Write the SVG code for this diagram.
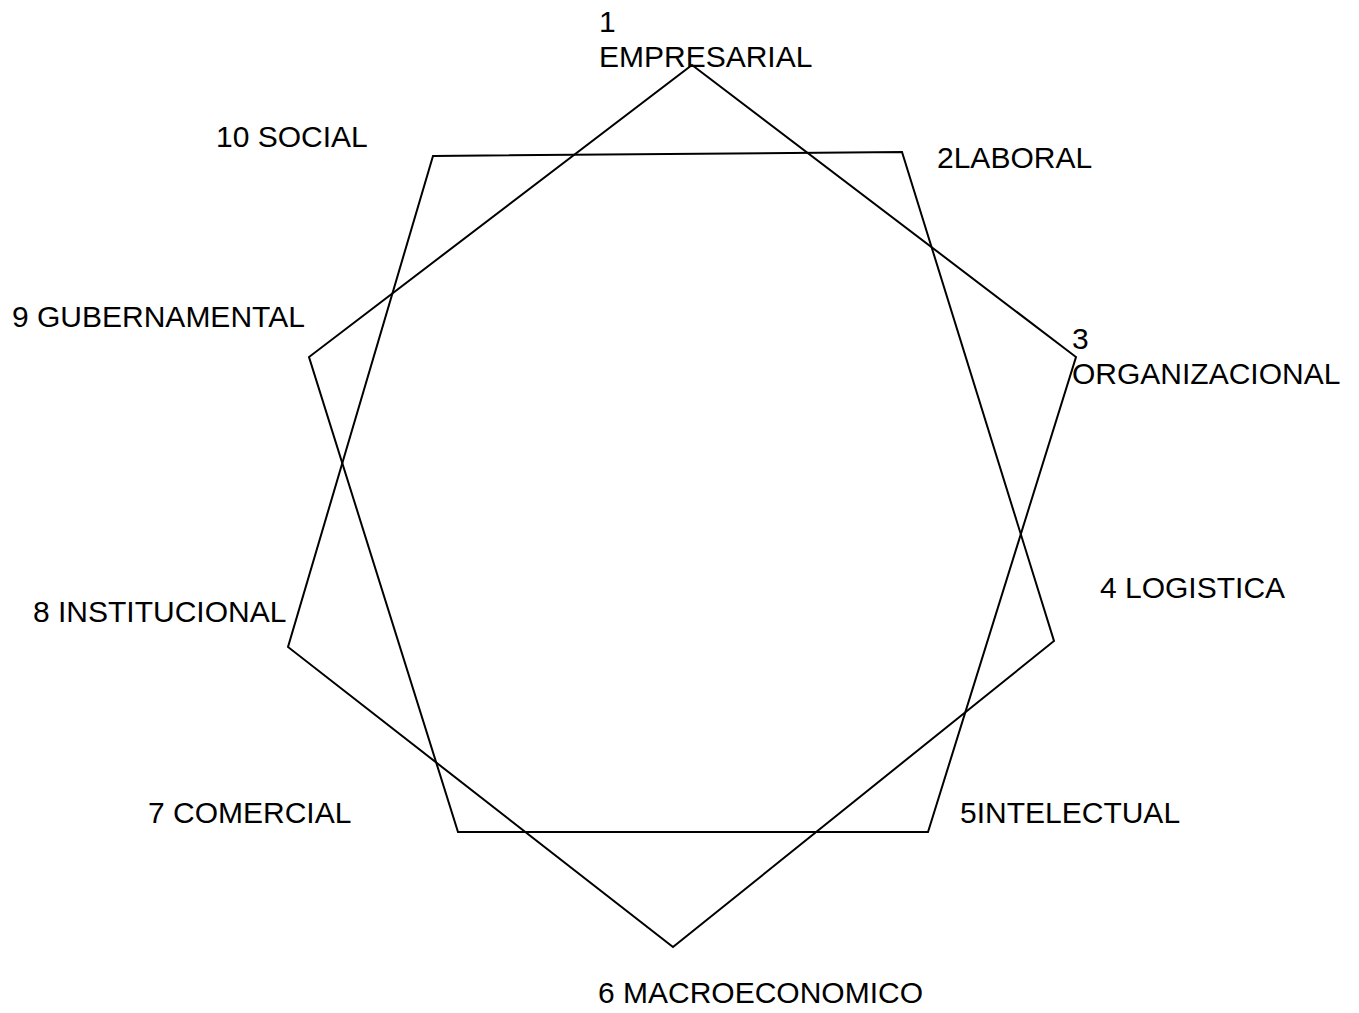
<svg xmlns="http://www.w3.org/2000/svg" width="1359" height="1013" viewBox="0 0 1359 1013">
<style>
.shape{fill:none;stroke:#000;stroke-width:2;stroke-linejoin:miter}
.lbl{font-family:"Liberation Sans",Arial,sans-serif;font-size:30px;fill:#000}
</style>
<rect width="1359" height="1013" fill="#fff"/>
<g id="connectors">
<polygon id="pentagon-odd" class="shape" points="692,65 1076,357 928,832 458,832 309,357"/>
<polygon id="pentagon-even" class="shape" points="433,156 902,152 1054,641 673,947 288,647"/>
</g>
<g id="node1"><text class="lbl" x="599" y="32">1</text><text class="lbl" x="599" y="67">EMPRESARIAL</text></g>
<g id="node2"><text class="lbl" x="937" y="168">2LABORAL</text></g>
<g id="node3"><text class="lbl" x="1072" y="349">3</text><text class="lbl" x="1072" y="384">ORGANIZACIONAL</text></g>
<g id="node4"><text class="lbl" x="1100" y="598">4 LOGISTICA</text></g>
<g id="node5"><text class="lbl" x="960" y="823">5INTELECTUAL</text></g>
<g id="node6"><text class="lbl" x="598" y="1003">6 MACROECONOMICO</text></g>
<g id="node7"><text class="lbl" x="148" y="823">7 COMERCIAL</text></g>
<g id="node8"><text class="lbl" x="33" y="622">8 INSTITUCIONAL</text></g>
<g id="node9"><text class="lbl" x="12" y="327">9 GUBERNAMENTAL</text></g>
<g id="node10"><text class="lbl" x="216" y="147">10 SOCIAL</text></g>
</svg>
